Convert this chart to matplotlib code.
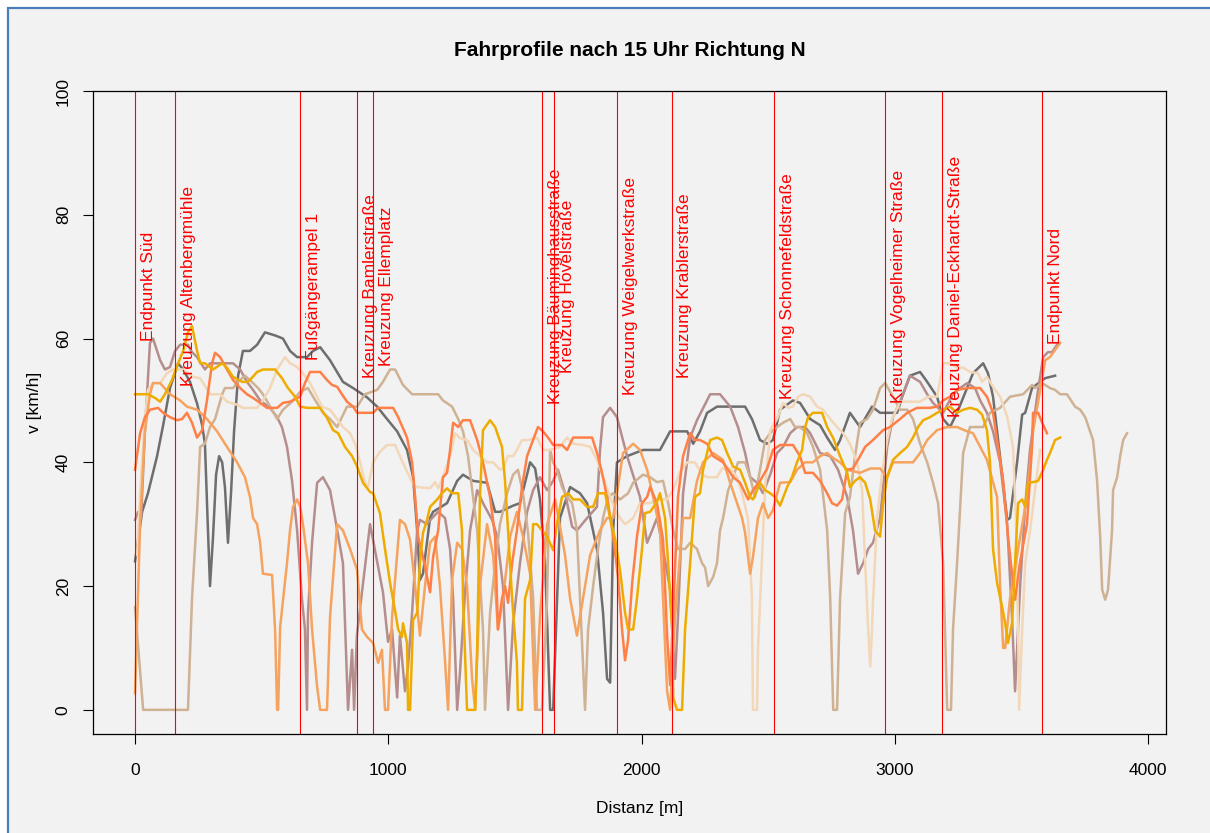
import matplotlib
matplotlib.use("Agg")
import matplotlib.pyplot as plt
from matplotlib.patches import Rectangle

plt.rcParams['font.family'] = ['Liberation Sans', 'DejaVu Sans']

# speed profiles: (distance [m], speed [km/h])
gray = [(0, 24), (28, 32), (51, 35), (87, 41), (111, 46), (138, 52), (158, 54.5), (170, 56), (190, 55),
        (217, 53), (245, 49.5), (265, 46), (276, 43), (288, 29), (296, 20), (308, 28), (320, 38), (332, 41),
        (344, 40), (355, 36), (367, 27), (379, 35), (391, 45), (407, 54), (426, 58), (454, 58), (482, 59),
        (513, 61), (553, 60.5), (584, 60), (612, 58), (640, 57), (679, 57), (703, 58), (731, 58.6), (770, 56.5),
        (821, 53), (861, 52), (916, 50.5), (956, 49), (995, 47), (1035, 45), (1074, 42), (1098, 37.6),
        (1114, 29), (1125, 21), (1137, 22), (1165, 31), (1177, 32), (1232, 33.4), (1272, 37), (1295, 38),
        (1335, 37), (1390, 36.7), (1422, 32), (1441, 32), (1493, 33), (1520, 33.4), (1560, 40), (1580, 39),
        (1599, 34), (1619, 24), (1639, 0), (1651, 0), (1678, 31), (1718, 36), (1757, 35), (1785, 33.4),
        (1824, 26), (1848, 15.7), (1864, 5), (1876, 4.4), (1888, 29), (1903, 40), (1943, 41), (2006, 42),
        (2073, 42), (2113, 45), (2180, 45), (2204, 43), (2231, 45), (2259, 48), (2279, 48.5), (2298, 49),
        (2409, 49), (2436, 47), (2468, 43.6), (2496, 43), (2519, 43.6), (2547, 48.5), (2598, 50), (2626, 49.6),
        (2666, 47), (2705, 46), (2733, 44), (2764, 42), (2784, 43.6), (2823, 48), (2863, 45.7), (2910, 49),
        (2942, 48), (3009, 48), (3029, 50.6), (3060, 54), (3100, 54.6), (3128, 53), (3167, 50.6), (3191, 47),
        (3218, 45.7), (3246, 48), (3309, 54.4), (3349, 56), (3368, 54.4), (3388, 50.6), (3404, 45), (3424, 38),
        (3444, 30.7), (3455, 31), (3483, 40), (3503, 47.7), (3515, 48), (3542, 52), (3574, 53), (3594, 53.6),
        (3633, 54)]

mauve = [(0, 30.7), (12, 32), (24, 31), (39, 45), (59, 59.3), (71, 60), (87, 58), (99, 56.5), (118, 55),
         (138, 55.4), (158, 58), (178, 59), (209, 59), (225, 57.8), (245, 57), (276, 55), (296, 56), (387, 56),
         (415, 55), (442, 53), (466, 51.7), (494, 50), (533, 48.8), (561, 47.3), (580, 45.7), (600, 42.5),
         (620, 37), (640, 29), (659, 18), (671, 13), (679, 0), (683, 15.7), (699, 27), (719, 36.7), (742, 37.6),
         (770, 35.5), (790, 31), (821, 23.7), (841, 0), (857, 9.7), (865, 0), (876, 12), (896, 19), (928, 30),
         (956, 24), (979, 19), (999, 11), (1015, 13), (1035, 2), (1046, 12), (1066, 3), (1078, 7), (1094, 15.7),
         (1114, 29), (1125, 30.7), (1153, 30), (1173, 31), (1197, 32), (1224, 31), (1244, 26), (1256, 18),
         (1272, 0), (1283, 6), (1303, 19), (1323, 29), (1351, 35.5), (1374, 33.4), (1410, 30.7), (1430, 28),
         (1453, 20), (1473, 0), (1493, 14), (1520, 23.7), (1548, 32), (1572, 35.5), (1599, 37.6), (1627, 35.5),
         (1651, 37), (1670, 38.8), (1698, 35), (1726, 29.6), (1745, 29), (1785, 31), (1824, 32.8), (1836, 42),
         (1848, 47.3), (1876, 48.8), (1903, 47.3), (1943, 41), (1994, 34.4), (2022, 27), (2042, 29), (2061, 31),
         (2085, 26), (2113, 19.4), (2132, 5), (2144, 15), (2164, 35), (2192, 44), (2219, 46.8), (2271, 51),
         (2310, 51), (2350, 49), (2381, 45.7), (2409, 41.5), (2429, 37.6), (2456, 36.7), (2480, 35), (2508, 38),
         (2535, 41.5), (2559, 42.5), (2587, 44.7), (2614, 45.7), (2646, 45.7), (2666, 44.7), (2705, 41.5),
         (2745, 41), (2776, 38.8), (2812, 34.4), (2835, 29), (2855, 22), (2875, 23.7), (2895, 26), (2914, 27),
         (2942, 31), (2970, 42.5), (2993, 47.3), (3029, 50.6), (3060, 54), (3100, 53), (3128, 51), (3151, 49.6),
         (3191, 48), (3230, 51), (3258, 52), (3286, 52.8), (3317, 52), (3337, 50), (3364, 48), (3388, 45),
         (3416, 40), (3444, 30), (3463, 15), (3475, 3), (3495, 20), (3515, 33), (3534, 42), (3562, 50.6),
         (3586, 57), (3605, 57.8), (3621, 57.8), (3641, 59)]

tan = [(0, 16.6), (32, 0), (209, 0), (225, 18), (245, 32), (257, 42.5), (276, 43), (296, 45.7), (316, 47),
       (344, 51), (355, 52), (387, 52), (407, 53), (434, 54), (466, 52.8), (486, 52), (505, 51), (541, 48.5),
       (561, 47), (584, 48.5), (620, 49.8), (652, 51.4), (683, 52), (703, 50.6), (742, 48), (770, 47),
       (798, 45.7), (817, 47.3), (837, 49), (877, 49), (908, 51), (956, 51.7), (979, 53), (1007, 55), (1027, 55),
       (1058, 52.5), (1094, 51), (1197, 51), (1216, 50), (1252, 49), (1276, 47), (1295, 45), (1315, 41),
       (1335, 34.4), (1351, 29), (1362, 21), (1374, 13), (1382, 0), (1402, 15.7), (1422, 23.7), (1441, 30),
       (1469, 35), (1493, 38), (1512, 38.8), (1532, 35), (1552, 28.6), (1572, 18), (1587, 0), (1607, 0),
       (1627, 18), (1639, 42), (1651, 40), (1666, 38.8), (1686, 36), (1706, 34.4), (1726, 33.4), (1745, 29),
       (1757, 18), (1777, 0), (1789, 13), (1809, 20), (1828, 26), (1848, 31), (1868, 34.4), (1888, 35),
       (1915, 34), (1947, 35), (1967, 36.7), (2006, 38), (2034, 37.6), (2061, 36.8), (2085, 37), (2105, 33.4),
       (2125, 29), (2144, 26), (2172, 26), (2192, 27), (2219, 26), (2239, 23.7), (2251, 23), (2263, 20),
       (2283, 21.5), (2298, 23.7), (2310, 29), (2322, 31), (2342, 35.5), (2362, 37.6), (2381, 40), (2409, 40),
       (2429, 37.6), (2448, 34.4), (2468, 38.8), (2488, 43.6), (2508, 44.7), (2535, 45.7), (2559, 46.4),
       (2587, 47), (2606, 45.7), (2626, 45.7), (2654, 44.7), (2677, 42.5), (2705, 38.8), (2733, 29), (2745, 18),
       (2757, 0), (2772, 0), (2784, 18), (2804, 31.8), (2823, 34.4), (2843, 41), (2863, 46.4), (2891, 47),
       (2914, 48.5), (2942, 52), (2962, 52.8), (2993, 50.6), (3021, 48.5), (3049, 48.5), (3072, 47),
       (3100, 43), (3128, 40), (3151, 36.7), (3171, 33.4), (3191, 23.7), (3207, 0), (3222, 0), (3230, 13),
       (3246, 23.7), (3270, 41.5), (3297, 45.7), (3349, 45.7), (3376, 48), (3416, 48.8), (3455, 50.6),
       (3507, 51), (3542, 52.5), (3554, 52), (3582, 52.8), (3613, 52), (3633, 51.7), (3653, 51), (3680, 51),
       (3712, 49), (3732, 48.5), (3752, 47.3), (3783, 43.6), (3799, 37), (3811, 28), (3819, 19.4),
       (3831, 17.8), (3842, 19.4), (3858, 29), (3862, 35.5), (3878, 37.6), (3890, 41), (3902, 43.6),
       (3917, 44.7)]

wheat = [(8, 25), (20, 35), (28, 40), (39, 47), (51, 51.7), (71, 52.8), (99, 52.8), (126, 54.4), (150, 55),
         (190, 55), (229, 53.8), (257, 53.6), (296, 51), (336, 51), (363, 49.8), (403, 49.3), (426, 48.8),
         (482, 48.8), (505, 50), (533, 52), (561, 55), (592, 57), (612, 56), (640, 55.4), (663, 54.4),
         (691, 52.8), (719, 50.6), (738, 49), (770, 48.5), (798, 47), (821, 45.7), (849, 44.7), (869, 43),
         (889, 40), (908, 36.7), (920, 36), (940, 40), (956, 41), (967, 41.7), (995, 42.8), (1027, 42.8),
         (1046, 41), (1074, 38.5), (1098, 36.5), (1114, 36), (1165, 35.8), (1185, 36.8), (1197, 35.8),
         (1216, 37.6), (1244, 41), (1264, 44.7), (1283, 43.9), (1311, 43.6), (1335, 42), (1362, 41), (1390, 40),
         (1414, 40), (1441, 38.8), (1453, 39), (1473, 41), (1493, 41), (1508, 42), (1528, 43.6), (1552, 43.6),
         (1587, 44), (1611, 42), (1639, 42), (1678, 42.5), (1706, 44), (1730, 43), (1769, 42.8), (1797, 42.5),
         (1824, 40.4), (1848, 37.6), (1876, 34.4), (1896, 32.3), (1915, 31), (1935, 30), (1967, 31),
         (1994, 33.4), (2034, 33.4), (2061, 34), (2101, 34), (2125, 35.5), (2152, 38.5), (2180, 40), (2211, 40),
         (2239, 38), (2259, 37.6), (2298, 37.6), (2318, 39), (2350, 39), (2377, 37.6), (2401, 34.4),
         (2421, 30.7), (2436, 18), (2440, 0), (2456, 0), (2460, 10), (2476, 24.7), (2488, 36), (2508, 45.2),
         (2535, 47), (2559, 49.6), (2579, 48.8), (2598, 49), (2618, 50.6), (2638, 51), (2666, 50.6), (2693, 49),
         (2717, 48.5), (2745, 47), (2772, 45.7), (2796, 44.7), (2823, 43), (2851, 40), (2871, 35.5),
         (2883, 23.7), (2895, 13), (2903, 7), (2910, 13), (2914, 17.3), (2930, 31), (2950, 38.3), (2970, 43.6),
         (2989, 47), (3021, 49.8), (3100, 49.8), (3132, 50.6), (3167, 50.6), (3191, 56), (3218, 56),
         (3246, 55.3), (3270, 55.3), (3297, 54.6), (3329, 54.4), (3345, 53), (3364, 53.8), (3388, 52.2),
         (3416, 50.6), (3444, 47.3), (3467, 42.5), (3479, 30), (3487, 13), (3491, 0), (3503, 13), (3515, 23.7),
         (3534, 29), (3554, 35.5), (3574, 42)]

sandy = [(0, 2.7), (20, 30), (39, 45), (59, 51), (71, 52.8), (99, 52.8), (138, 51), (178, 50), (205, 49),
         (245, 48.5), (284, 47), (324, 45), (363, 42.5), (403, 40), (434, 37.6), (454, 34.4), (466, 31),
         (482, 30), (494, 27), (505, 22), (541, 21.8), (553, 13), (561, 0), (565, 0), (573, 13.4), (600, 23.7),
         (612, 29), (624, 32.8), (640, 34), (652, 32.8), (663, 30), (683, 23.7), (699, 13), (719, 3.7),
         (731, 0), (742, 0), (758, 0), (770, 15), (798, 30), (821, 29), (849, 26), (877, 22.6), (896, 13),
         (916, 11.8), (940, 10.8), (960, 7.6), (975, 9.7), (987, 0), (999, 0), (1015, 15), (1046, 30.7),
         (1066, 30), (1086, 27.5), (1106, 20), (1125, 12), (1145, 20), (1165, 27), (1185, 28), (1204, 20),
         (1224, 8), (1236, 0), (1252, 21), (1272, 27), (1291, 26), (1311, 20), (1331, 5), (1343, 0), (1362, 20),
         (1390, 30), (1414, 25), (1433, 13), (1453, 18), (1481, 28), (1508, 32), (1532, 28), (1560, 22),
         (1580, 0), (1599, 15), (1627, 30), (1659, 34), (1698, 25), (1718, 18), (1745, 12), (1769, 18),
         (1797, 25), (1836, 29), (1864, 31), (1888, 31), (1927, 41.5), (1967, 43), (1994, 42), (2022, 38.8),
         (2046, 34.4), (2073, 29), (2085, 18), (2101, 3), (2113, 0), (2132, 15), (2164, 31), (2192, 31),
         (2219, 37), (2243, 40), (2283, 41.5), (2322, 40.4), (2350, 36.7), (2377, 33.4), (2397, 31),
         (2409, 28.6), (2429, 22), (2440, 24.7), (2460, 31), (2480, 33.4), (2500, 31), (2519, 32.3),
         (2547, 36.7), (2587, 36.8), (2614, 38.8), (2646, 40), (2677, 40), (2705, 41), (2733, 41.5),
         (2756, 40.7), (2784, 40), (2812, 38.8), (2863, 38.3), (2903, 39), (2942, 39), (2970, 37.6), (2993, 40),
         (3072, 40), (3100, 41.5), (3128, 43.6), (3167, 45.2), (3207, 45.7), (3246, 45.7), (3286, 45),
         (3309, 44.7), (3337, 42.5), (3364, 40.4), (3404, 34.4), (3416, 20), (3428, 10), (3436, 10),
         (3455, 18), (3483, 25), (3522, 34.4), (3546, 45), (3574, 51.7), (3594, 56.5), (3613, 57), (3641, 58.6),
         (3653, 59.3)]

coral = [(0, 38.8), (20, 44.7), (39, 47.3), (59, 48.5), (91, 48.8), (111, 48), (138, 47.3), (166, 46.8),
         (186, 47), (205, 48), (225, 46.4), (245, 44), (265, 45.2), (284, 50), (304, 56), (316, 57.7),
         (336, 57), (363, 55), (387, 53.3), (415, 52), (442, 51), (466, 50.4), (494, 49.6), (521, 48.8),
         (561, 48.8), (584, 49.6), (612, 49.8), (652, 50.6), (671, 52.8), (691, 54.6), (731, 54.6), (758, 53.3),
         (778, 52.5), (798, 52.2), (817, 51), (837, 49.8), (861, 49), (877, 48), (940, 48), (960, 48.8),
         (1019, 48.8), (1039, 47.3), (1074, 44), (1094, 40), (1106, 34.4), (1118, 28), (1137, 24.7),
         (1153, 21.5), (1165, 19), (1177, 24.7), (1197, 29), (1216, 37.6), (1232, 38.3), (1244, 42),
         (1256, 46.4), (1276, 45.7), (1295, 46.8), (1323, 46.8), (1351, 43.6), (1374, 40), (1402, 34.4),
         (1422, 28), (1433, 13), (1449, 18), (1461, 20), (1473, 17.3), (1489, 23.7), (1508, 29), (1528, 36),
         (1548, 41), (1572, 43.6), (1591, 45.7), (1611, 45), (1631, 44), (1651, 42.8), (1686, 42.8), (1706, 42),
         (1730, 44), (1805, 44), (1828, 41), (1848, 37.6), (1868, 33.4), (1888, 28), (1907, 21.5), (1923, 13),
         (1935, 8), (1947, 11.3), (1963, 20.5), (1982, 28), (2002, 33.4), (2022, 34.4), (2034, 36),
         (2061, 33.4), (2085, 27.5), (2101, 12), (2113, 4), (2125, 15.7), (2144, 34.4), (2164, 41),
         (2192, 44.7), (2211, 43.6), (2231, 43.6), (2259, 43), (2283, 41), (2322, 40), (2362, 37.6),
         (2389, 36.7), (2409, 35), (2421, 34), (2440, 35.5), (2468, 37), (2496, 39), (2519, 42), (2547, 42.8),
         (2598, 42.8), (2626, 41), (2646, 38.3), (2677, 38.3), (2705, 37), (2733, 35), (2752, 33.4), (2772, 33),
         (2792, 34), (2812, 38.8), (2835, 39), (2863, 41), (2883, 42.5), (2914, 43.6), (2954, 45.2),
         (2981, 45.7), (3021, 47), (3049, 48), (3088, 48.8), (3139, 48.8), (3167, 49), (3191, 50), (3218, 50.6),
         (3246, 51.7), (3286, 52), (3337, 52), (3364, 50.6), (3388, 48), (3404, 43.6), (3428, 37), (3447, 28),
         (3463, 22), (3475, 17.8), (3495, 24), (3522, 30), (3542, 42.5), (3546, 48), (3566, 48), (3582, 46.4),
         (3601, 44.7)]

gold = [(0, 51), (51, 51), (79, 50.4), (99, 49.8), (118, 51), (146, 53.3), (170, 56), (190, 58), (209, 61),
        (225, 62), (245, 58), (257, 56), (276, 56), (308, 55), (344, 56), (363, 55.3), (387, 53.8), (423, 53),
        (442, 53), (454, 53.3), (482, 54.6), (505, 55), (553, 55), (580, 53.6), (604, 52), (632, 50.6),
        (652, 49), (679, 48.8), (731, 48.8), (758, 47.2), (782, 45.2), (802, 44.7), (829, 42.5), (857, 41),
        (877, 39.3), (900, 36.7), (928, 35.2), (940, 35), (967, 31.8), (987, 26), (1007, 20.5), (1027, 16),
        (1039, 13), (1054, 11.8), (1058, 14), (1074, 10.8), (1078, 0), (1086, 0), (1098, 14.5), (1114, 15.7),
        (1125, 23.7), (1137, 28.6), (1153, 30.7), (1165, 32.8), (1193, 34), (1212, 35), (1232, 35.8),
        (1252, 35), (1276, 35), (1291, 29), (1295, 18), (1311, 0), (1343, 0), (1351, 10), (1362, 34.4),
        (1374, 45.2), (1402, 46.8), (1422, 45.7), (1449, 42.5), (1461, 37), (1473, 29), (1489, 18),
        (1508, 7.6), (1512, 0), (1528, 0), (1540, 18), (1560, 21), (1572, 30), (1587, 30), (1607, 29),
        (1627, 28), (1651, 25.8), (1670, 31), (1686, 34.4), (1710, 35), (1730, 34), (1757, 34), (1785, 32.8),
        (1809, 32.8), (1828, 35), (1856, 35), (1876, 31), (1896, 27.5), (1915, 22.6), (1935, 15.7), (1947, 13),
        (1967, 13), (1982, 18), (2002, 26), (2014, 31.8), (2034, 32), (2061, 33.6), (2073, 35), (2093, 31),
        (2105, 23.7), (2121, 13), (2125, 2), (2140, 0), (2160, 0), (2172, 13), (2192, 23.7), (2211, 34.4),
        (2231, 35), (2243, 38.8), (2271, 43.6), (2298, 44), (2318, 43.6), (2338, 41.5), (2362, 39.3),
        (2389, 38.8), (2409, 36.7), (2429, 34.4), (2440, 34), (2456, 35.5), (2468, 36.7), (2488, 35.5),
        (2508, 35), (2527, 34.4), (2547, 33), (2575, 36), (2594, 37.6), (2614, 40), (2634, 42), (2646, 45.7),
        (2658, 47.3), (2677, 48), (2713, 48), (2733, 45.7), (2756, 44), (2784, 41), (2812, 38.3), (2823, 36),
        (2843, 37), (2863, 37.6), (2883, 36.7), (2903, 34), (2922, 29), (2942, 28), (2954, 33.4), (2970, 37.6),
        (2993, 40.4), (3021, 41.5), (3049, 42.5), (3072, 44), (3092, 45.7), (3112, 46.8), (3139, 47.3),
        (3167, 48), (3191, 48.5), (3218, 49), (3246, 48), (3270, 48.5), (3297, 48.8), (3325, 48.5),
        (3345, 47.7), (3364, 45.2), (3376, 40), (3388, 26), (3404, 20.5), (3424, 16.6), (3436, 14),
        (3447, 10.8), (3463, 14), (3475, 23.7), (3487, 33.4), (3503, 34), (3515, 32.8), (3526, 36.7),
        (3546, 36.8), (3566, 37), (3586, 38.8), (3601, 40.4), (3613, 41.5), (3633, 43.6), (3653, 44)]

profiles = [gray, mauve, tan, wheat, sandy, coral, gold]
colors = ['#6E6E6E', '#B68D8D', '#CFB193', '#F2D7B8', '#F5A35F', '#FF7F47', '#EFAC00']

# junction markers along the route
stop_pos = [0, 158, 652, 877, 940, 1607, 1655, 1903, 2120, 2523, 2962, 3187, 3582]
stop_names = ['Endpunkt Süd', 'Kreuzung Altenbergmühle', 'Fußgängerampel 1', 'Kreuzung Bamlerstraße',
              'Kreuzung Ellemplatz', 'Kreuzung Bäuminghausstraße', 'Kreuzung Hövelstraße',
              'Kreuzung Weigelwerkstraße', 'Kreuzung Krablerstraße', 'Kreuzung Schonnefeldstraße',
              'Kreuzung Vogelheimer Straße', 'Kreuzung Daniel-Eckhardt-Straße', 'Endpunkt Nord']

W, H = 1210, 833
fig = plt.figure(figsize=(W / 100, H / 100), dpi=100)
fig.patch.set_facecolor('white')
fig.patches.append(Rectangle((8 / W, -0.05), 1.1, 1 - 8 / H + 0.05, transform=fig.transFigure,
                             facecolor='#F2F2F2', edgecolor='#4A7EBB', linewidth=1.6, zorder=-5))

ax = fig.add_axes([93 / W, 1 - 734 / H, (1166 - 93) / W, (734 - 91) / H])
ax.set_facecolor('#F2F2F2')

for prof, col in zip(profiles, colors):
    xs = [p[0] for p in prof]
    ys = [p[1] for p in prof]
    ax.plot(xs, ys, color=col, linewidth=1.8, solid_joinstyle='round')

for pos, name in zip(stop_pos, stop_names):
    ax.axvline(pos, color='red', linewidth=0.8)
    ax.annotate(name, xy=(pos, 68.5), xytext=(4, 0), textcoords='offset points',
                rotation=90, ha='left', va='center', color='red', fontsize=12.5)

ax.set_xlim(-166, 4071)
ax.set_ylim(-3.9, 100)
ax.set_xticks([0, 1000, 2000, 3000, 4000])
ax.set_yticks([0, 20, 40, 60, 80, 100])
ax.tick_params(axis='both', direction='out', length=7, width=0.8, labelsize=12.5)
ax.tick_params(axis='x', pad=14)
ax.tick_params(axis='y', pad=9)
for lab in ax.get_yticklabels():
    lab.set_rotation(90)
    lab.set_va('center')
for s in ax.spines.values():
    s.set_linewidth(0.9)

fig.text(629.5 / W, 1 - 50 / H, 'Fahrprofile nach 15 Uhr Richtung N', ha='center', va='center',
         fontsize=15, fontweight='bold')
fig.text(640 / W, 1 - 808 / H, 'Distanz [m]', ha='center', va='center', fontsize=12.5)
fig.text(35 / W, 1 - 402 / H, 'v [km/h]', ha='center', va='center', rotation=90, fontsize=12.5)

fig.savefig('out.png', dpi=100, facecolor=fig.get_facecolor())
